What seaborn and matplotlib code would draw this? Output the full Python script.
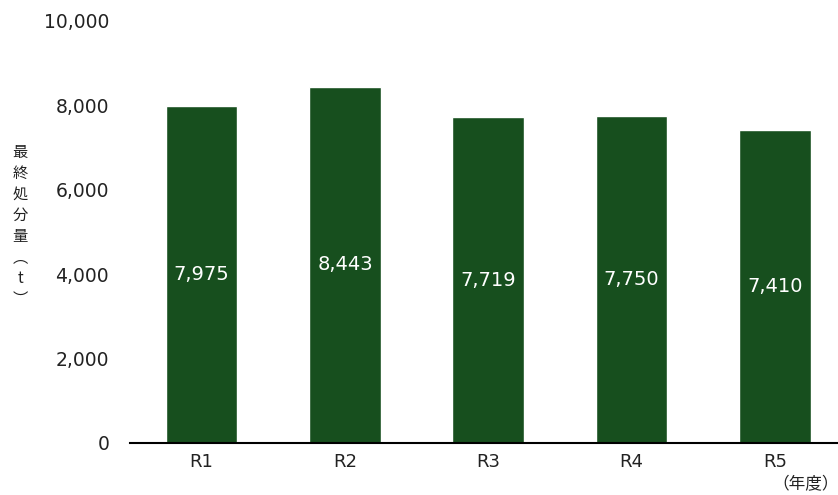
import matplotlib
matplotlib.use("Agg")
import matplotlib.pyplot as plt
import seaborn as sns
import pandas as pd

categories = ["R1", "R2", "R3", "R4", "R5"]
values = [7975, 8443, 7719, 7750, 7410]
value_labels = ["7,975", "8,443", "7,719", "7,750", "7,410"]
yticks = [0, 2000, 4000, 6000, 8000, 10000]
ytick_labels = ["0", "2,000", "4,000", "6,000", "8,000", "10,000"]

sns.set_theme(style="white")
plt.rcParams['font.family'] = ['DejaVu Sans', 'Noto Sans CJK JP']

df = pd.DataFrame({"year": categories, "value": values})

fig = plt.figure(figsize=(8.38, 4.95), dpi=100)
ax = fig.add_axes([130/838, 1-443/495, 1-130/838, (443-21)/495])
sns.barplot(data=df, x="year", y="value", color="#174f1e", width=0.5,
            saturation=1, ax=ax)

for i, (v, lab) in enumerate(zip(values, value_labels)):
    ax.text(i, v/2, lab, color="white", ha="center", va="center", fontsize=14)

ax.set_xlim(-0.5, 4.44)
ax.set_ylim(0, 10000)
ax.set_yticks(yticks)
ax.set_yticklabels(ytick_labels, fontsize=13.5, color="#222222")
ax.tick_params(axis="x", labelsize=13, colors="#222222", pad=7, length=0)
ax.tick_params(axis="y", length=0, pad=15)
ax.set_xlabel("")
ax.set_ylabel("")
for s in ["top", "right", "left"]:
    ax.spines[s].set_visible(False)
ax.spines["bottom"].set_color("black")
ax.spines["bottom"].set_linewidth(1.5)

fig.text(20/838, 1-226/495, "最\n終\n処\n分\n量\n︵\nt\n︶", ha="center", va="center",
         family=['Noto Sans CJK JP', 'DejaVu Sans'],
         fontsize=11, color="#222222", linespacing=1.3)
fig.text(806/838, 1-485/495, "（年度）", ha="center", va="center", fontsize=12,
         family=['Noto Sans CJK JP', 'DejaVu Sans'], color="#222222")

fig.savefig("out.png", dpi=100)
